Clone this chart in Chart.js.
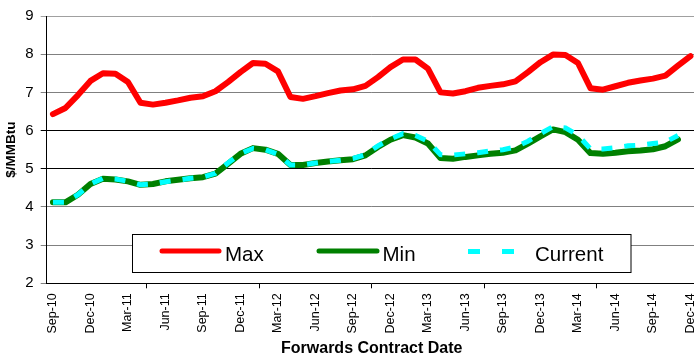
<!DOCTYPE html>
<html>
<head>
<meta charset="utf-8">
<script src="https://cdn.jsdelivr.net/npm/chart.js@4.4.1/dist/chart.umd.min.js"></script>
<style>
body{margin:0;overflow:hidden;background:#fff}
#wrap{width:700px;height:354px}
</style>
</head>
<body>
<div id="wrap"><canvas id="grafico" width="700" height="354"></canvas></div>
<script>
const meses = [
    'Sep-10','Oct-10','Nov-10','Dec-10',
    'Jan-11','Feb-11','Mar-11','Apr-11','May-11','Jun-11','Jul-11','Aug-11','Sep-11','Oct-11','Nov-11','Dec-11',
    'Jan-12','Feb-12','Mar-12','Apr-12','May-12','Jun-12','Jul-12','Aug-12','Sep-12','Oct-12','Nov-12','Dec-12',
    'Jan-13','Feb-13','Mar-13','Apr-13','May-13','Jun-13','Jul-13','Aug-13','Sep-13','Oct-13','Nov-13','Dec-13',
    'Jan-14','Feb-14','Mar-14','Apr-14','May-14','Jun-14','Jul-14','Aug-14','Sep-14','Oct-14','Nov-14','Dec-14'
]

const maxData = [6.43, 6.59, 6.93, 7.3, 7.5, 7.49, 7.27, 6.73, 6.68, 6.73, 6.79, 6.86, 6.9, 7.03, 7.27, 7.53, 7.77, 7.75,
    7.55, 6.88, 6.83, 6.9, 6.98, 7.05, 7.08, 7.17, 7.4, 7.66, 7.86, 7.86, 7.62, 7.0, 6.97, 7.03, 7.12,
    7.17, 7.21, 7.29, 7.53, 7.79, 7.99, 7.98, 7.77, 7.11, 7.07, 7.16, 7.25, 7.31, 7.36, 7.44, 7.7, 7.95]

const minData = [4.12, 4.12, 4.32, 4.6, 4.74, 4.72, 4.67, 4.58, 4.6, 4.67, 4.71, 4.75, 4.78, 4.87, 5.13, 5.39, 5.54, 5.5,
    5.39, 5.1, 5.1, 5.15, 5.19, 5.22, 5.25, 5.35, 5.57, 5.76, 5.88, 5.82, 5.66, 5.28, 5.26, 5.31, 5.35,
    5.39, 5.42, 5.48, 5.66, 5.85, 6.03, 5.96, 5.76, 5.41, 5.39, 5.42, 5.46, 5.48, 5.51, 5.59, 5.77]

const currentData = [4.12, 4.12, 4.32, 4.6, 4.75, 4.73, 4.67, 4.58, 4.6, 4.66, 4.7, 4.75, 4.78, 4.88, 5.15, 5.4, 5.53, 5.5,
    5.38, 5.1, 5.1, 5.15, 5.19, 5.22, 5.27, 5.37, 5.6, 5.78, 5.92, 5.87, 5.72, 5.37, 5.36, 5.39, 5.42,
    5.47, 5.5, 5.57, 5.72, 5.92, 6.1, 6.07, 5.88, 5.52, 5.52, 5.55, 5.6, 5.62, 5.66, 5.7, 5.87]

const series = ['Max', 'Min', 'Current']
const yMin = 2
const yMax = 9

Chart.defaults.font.family = "'Liberation Sans', Arial, sans-serif"
Chart.defaults.color = '#000'

// leyenda dibujada dentro del area del grafico, como en Excel
const leyenda = {
    id: 'leyenda',
    afterDraw(chart) {
        const ctx = chart.ctx
        const ds = chart.data.datasets
        ctx.save()
        ctx.fillStyle = '#fff'
        ctx.fillRect(132.5, 234.5, 498.5, 38)
        ctx.strokeStyle = '#000'
        ctx.lineWidth = 1
        ctx.strokeRect(132.5, 234.5, 498.5, 38)

        ctx.font = "20.5px 'Liberation Sans', Arial, sans-serif"
        ctx.textBaseline = 'alphabetic'
        ctx.fillStyle = '#000'

        // Max
        ctx.strokeStyle = ds[0].borderColor
        ctx.lineWidth = 5
        ctx.lineCap = 'round'
        ctx.beginPath(); ctx.moveTo(162, 251); ctx.lineTo(219, 251); ctx.stroke()
        ctx.fillText(ds[0].label, 225, 260.5)

        // Min
        ctx.strokeStyle = ds[1].borderColor
        ctx.beginPath(); ctx.moveTo(319, 251); ctx.lineTo(377, 251); ctx.stroke()
        ctx.fillText(ds[1].label, 382.5, 260.5)

        // Current
        ctx.fillStyle = ds[2].borderColor
        ctx.fillRect(468, 249, 12, 5)
        ctx.fillRect(502, 249, 12, 5)
        ctx.fillStyle = '#000'
        ctx.fillText(ds[2].label, 535, 260.5)
        ctx.restore()
    }
}

new Chart(document.getElementById('grafico'), {
    type: 'line',
    plugins: [leyenda],
    data: {
        labels: meses,
        datasets: [
            {
                label: series[0],
                data: maxData,
                borderColor: '#ff0000',
                borderWidth: 6,
                pointRadius: 0,
                borderCapStyle: 'round',
                borderJoinStyle: 'round',
                tension: 0,
                order: 3
            },
            {
                label: series[1],
                data: minData,
                borderColor: '#008000',
                borderWidth: 6,
                pointRadius: 0,
                borderCapStyle: 'round',
                borderJoinStyle: 'round',
                tension: 0,
                order: 2
            },
            {
                label: series[2],
                data: currentData,
                borderColor: '#00ffff',
                borderWidth: 5,
                borderDash: [11, 12],
                pointRadius: 0,
                borderCapStyle: 'butt',
                tension: 0,
                order: 1
            }
        ]
    },
    options: {
        responsive: false,
        maintainAspectRatio: false,
        animation: false,
        devicePixelRatio: 1,
        layout: {
            padding: { top: 15, right: 3.3, left: 0, bottom: 0 }
        },
        plugins: {
            legend: { display: false },
            tooltip: { enabled: false }
        },
        scales: {
            x: {
                offset: true,
                afterFit: function(scale){
                    scale.height = 70.7
                    scale.paddingLeft = 0
                    scale.paddingRight = 0
                },
                grid: {
                    offset: true,
                    drawOnChartArea: false,
                    drawTicks: true,
                    tickLength: 5,
                    color: ctx => (ctx.index % 3 === 0 ? '#000' : 'rgba(0,0,0,0)')
                },
                border: { color: '#000', width: 1 },
                ticks: {
                    autoSkip: false,
                    maxRotation: 90,
                    minRotation: 90,
                    padding: 5,
                    font: { size: 12.5 },
                    callback: function(value, index){
                        return index % 3 === 0 ? this.getLabelForValue(value) : null
                    }
                },
                title: {
                    display: true,
                    text: 'Forwards Contract Date',
                    font: { size: 16, weight: 'bold', lineHeight: 0.72 },
                    padding: { top: 0, bottom: 0 }
                }
            },
            y: {
                min: yMin,
                max: yMax,
                afterFit: function(scale){ scale.width = 46.7 },
                grid: {
                    drawTicks: true,
                    tickLength: 6,
                    color: function(ctx){
                        const v = ctx.tick ? ctx.tick.value : 0
                        if (v === 5 || v === 6) return '#000'
                        if (v === 9) return '#a0a0a0'
                        return '#808080'
                    }
                },
                border: { color: '#000', width: 1 },
                ticks: {
                    stepSize: 1,
                    padding: 7,
                    font: { size: 15 }
                },
                title: {
                    display: true,
                    text: '$/MMBtu',
                    font: { size: 13.5, weight: 'bold' },
                    padding: { top: 3.6, bottom: 0 }
                }
            }
        }
    }
})
</script>
</body>
</html>
